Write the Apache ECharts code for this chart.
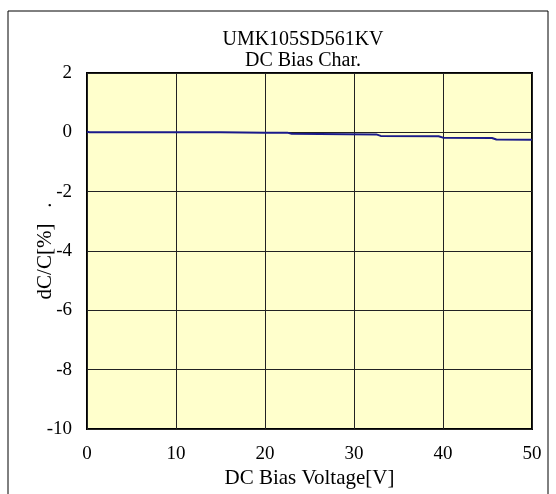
<!DOCTYPE html>
<html>
<head>
<meta charset="utf-8">
<script src="https://cdn.jsdelivr.net/npm/echarts@6/dist/echarts.min.js"></script>
<style>
  html, body { margin: 0; padding: 0; background: #fff; }
  #chart { width: 556px; height: 494px; }
</style>
</head>
<body>
<div id="chart"></div>
<script>
// DC bias characteristic
var voltage = [0, 0.3, 0.5, 0.8, 1.0, 1.3, 1.5, 1.8, 2.0, 5, 10, 15, 20, 22.5, 23, 32.5, 33, 39.5, 40, 45.5, 46, 50];
var dcPercent = [0.02, 0.0, 0.03, 0.0, 0.03, 0.0, 0.03, 0.0, 0.01, 0, 0, 0, -0.01, -0.01, -0.05, -0.07, -0.12, -0.13, -0.18, -0.19, -0.24, -0.25];
var titleLines = ["UMK105SD561KV", "DC Bias Char."];

var serif = "'Liberation Serif', 'Times New Roman', serif";

var chartDom = document.getElementById("chart");
var myChart = echarts.init(chartDom);

var option = {
  backgroundColor: "#fff",
  animation: false,
  title: [
    {
      text: titleLines[0],
      left: 298,
      top: 25,
      textAlign: "center",
      textStyle: { fontFamily: serif, fontSize: 20, fontWeight: "normal", color: "#000" },
    },
    {
      text: titleLines[1],
      left: 298,
      top: 46,
      textAlign: "center",
      textStyle: { fontFamily: serif, fontSize: 20, fontWeight: "normal", color: "#000" },
    },
  ],
  graphic: [
    {
      type: "rect",
      shape: { x: 8, y: 11, width: 540, height: 520 },
      style: { fill: "none", stroke: "#000", lineWidth: 1 },
      silent: true,
    },
  ],
  grid: {
    left: 87,
    right: 24,
    top: 73,
    bottom: 63,
    show: true,
    backgroundColor: "#ffffcc",
    borderColor: "#000",
    borderWidth: 2,
  },
  xAxis: {
    type: "value",
    min: 0,
    max: 50,
    interval: 10,
    name: "DC Bias Voltage[V]",
    nameLocation: "middle",
    nameGap: 39,
    nameMoveOverlap: false,
    nameTextStyle: { fontFamily: serif, fontSize: 21, color: "#000" },
    axisLine: { show: false },
    axisTick: { show: false },
    axisLabel: { fontFamily: serif, fontSize: 19, color: "#000", margin: 16 },
    splitLine: { show: true, lineStyle: { color: "#222", width: 1 } },
  },
  yAxis: {
    type: "value",
    min: -10,
    max: 2,
    interval: 2,
    name: "dC/C[%]   .",
    nameLocation: "middle",
    nameGap: 31,
    nameRotate: 90,
    nameMoveOverlap: false,
    nameTextStyle: { fontFamily: serif, fontSize: 21, color: "#000" },
    axisLine: { show: false },
    axisTick: { show: false },
    axisLabel: { fontFamily: serif, fontSize: 19, color: "#000", margin: 15 },
    splitLine: { show: true, lineStyle: { color: "#222", width: 1 } },
  },
  series: [
    {
      type: "line",
      showSymbol: false,
      data: voltage.map(function (v, i) {
        return [v, dcPercent[i]];
      }),
      lineStyle: { color: "#1a1a8a", width: 2 },
    },
  ],
};
option && myChart.setOption(option);
</script>
</body>
</html>
